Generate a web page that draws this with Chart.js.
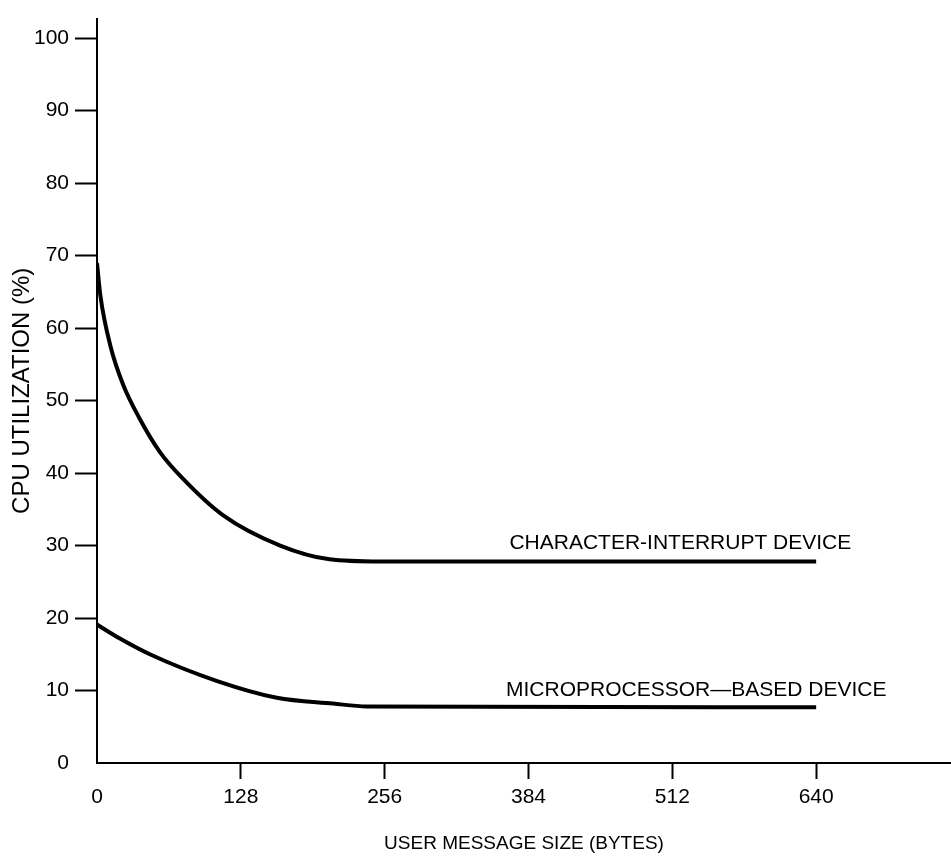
<!DOCTYPE html>
<html>
<head>
<meta charset="utf-8">
<title>CPU Utilization vs Message Size</title>
<script src="https://cdn.jsdelivr.net/npm/chart.js@4.4.1/dist/chart.umd.min.js"></script>
<style>
    body { margin: 0; background: #fff; }
    #chart { display: block; }
</style>
</head>
<body>
<canvas id="chart" width="951" height="859"></canvas>
<script>
// message size in bytes, utilization in %
const charBytes = [0, 3, 12, 23, 38, 56, 76, 112, 163, 207, 252, 640];
const charUtil = [69, 64.5, 57.5, 52.3, 47.5, 42.9, 39.3, 34.2, 30.0, 28.1, 27.8, 27.8];

const microBytes = [0, 20, 47, 107, 160, 210, 240, 640];
const microUtil = [19.1, 17.2, 15.0, 11.3, 9.0, 8.2, 7.8, 7.7];

const xTicks = [0, 128, 256, 384, 512, 640];
const yTicks = [0, 10, 20, 30, 40, 50, 60, 70, 80, 90, 100];

const curveLabels = ['CHARACTER-INTERRUPT DEVICE', 'MICROPROCESSOR\u2014BASED DEVICE'];
const labelAt = [[367, 30.3], [364, 10.0]];

const FONT = '"Liberation Sans", Arial, Helvetica, sans-serif';
const INK = '#000';

const toPoints = (xs, ys) => xs.map((x, i) => ({ x: x, y: ys[i] }));

const curveLabelPlugin = {
    id: 'curveLabels',
    afterDatasetsDraw(chart) {
        const ctx = chart.ctx;
        const { x, y } = chart.scales;
        ctx.save();
        ctx.fillStyle = INK;
        ctx.font = '21px ' + FONT;
        ctx.textAlign = 'left';
        ctx.textBaseline = 'middle';
        curveLabels.forEach((text, i) => {
            ctx.fillText(text, x.getPixelForValue(labelAt[i][0]), y.getPixelForValue(labelAt[i][1]));
        });
        ctx.restore();
    }
};

const hideZeroTick = (c) => (c.tick && c.tick.value === 0) ? 'rgba(0,0,0,0)' : '#000';

new Chart(document.getElementById('chart'), {
    type: 'line',
    data: {
        datasets: [
            {
                data: toPoints(charBytes, charUtil),
                borderColor: '#000',
                borderWidth: 4,
                pointRadius: 0,
                cubicInterpolationMode: 'monotone'
            },
            {
                data: toPoints(microBytes, microUtil),
                borderColor: '#000',
                borderWidth: 4,
                pointRadius: 0,
                cubicInterpolationMode: 'monotone'
            }
        ]
    },
    options: {
        responsive: false,
        animation: false,
        layout: { padding: { top: 10, right: 0, bottom: 0, left: 0 } },
        plugins: { legend: { display: false }, tooltip: { enabled: false } },
        scales: {
            x: {
                type: 'linear',
                min: 0,
                max: 760,
                afterBuildTicks: (axis) => { axis.ticks = xTicks.map(v => ({ value: v })); },
                afterFit: (axis) => { axis.height = 96; },
                border: { color: '#000', width: 2 },
                grid: {
                    drawOnChartArea: false,
                    drawTicks: true,
                    tickLength: 16,
                    tickWidth: 2,
                    tickColor: hideZeroTick
                },
                ticks: {
                    autoSkip: false,
                    maxRotation: 0,
                    padding: 6,
                    color: INK,
                    font: { family: FONT, size: 21 }
                },
                title: {
                    display: true,
                    text: 'USER MESSAGE SIZE (BYTES)',
                    color: INK,
                    font: { family: FONT, size: 19 },
                    padding: { top: 0, bottom: 4 }
                }
            },
            y: {
                min: 0,
                max: 102.7,
                afterBuildTicks: (axis) => { axis.ticks = yTicks.map(v => ({ value: v })); },
                afterFit: (axis) => { axis.width = 97; },
                border: { color: '#000', width: 2 },
                grid: {
                    drawOnChartArea: false,
                    drawTicks: true,
                    tickLength: 22,
                    tickWidth: 2,
                    tickColor: hideZeroTick
                },
                ticks: {
                    autoSkip: false,
                    padding: 6,
                    color: INK,
                    font: { family: FONT, size: 21 }
                },
                title: {
                    display: true,
                    text: 'CPU UTILIZATION (%)',
                    color: INK,
                    font: { family: FONT, size: 24 },
                    padding: { top: 8, bottom: 0 }
                }
            }
        }
    },
    plugins: [curveLabelPlugin]
});
</script>
</body>
</html>
